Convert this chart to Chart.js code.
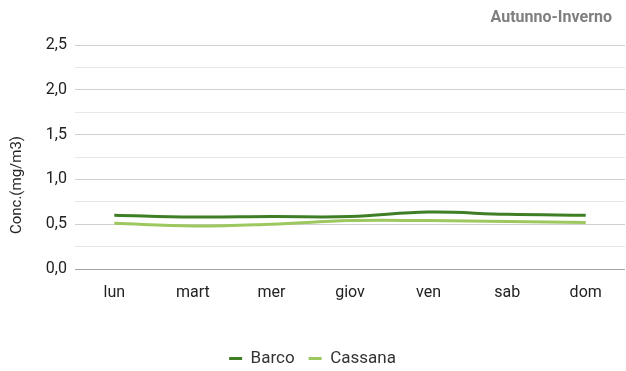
<!DOCTYPE html>
<html>
<head>
<meta charset="utf-8">
<script src="https://cdn.jsdelivr.net/npm/chart.js@4/dist/chart.umd.min.js"></script>
<style>
  html, body { margin: 0; padding: 0; background: #fff; }
  #wrap { width: 626px; height: 371px; }
</style>
</head>
<body>
<div id="wrap"><canvas id="concChart"></canvas></div>
<script>
// weekly concentration profile, autumn-winter
var days = ['lun', 'mart', 'mer', 'giov', 'ven', 'sab', 'dom'];
var barco = [0.60, 0.58, 0.585, 0.585, 0.635, 0.61, 0.60];
var cassana = [0.51, 0.48, 0.50, 0.54, 0.54, 0.53, 0.52];
var yTicks = [0, 0.5, 1.0, 1.5, 2.0, 2.5];

// header and axis title placed like the spreadsheet original
var labelsPlugin = {
    id: 'labelsPlugin',
    afterDraw: function (chart) {
        var c = chart.ctx;
        c.save();
        c.fillStyle = '#7f7f7f';
        c.font = 'bold 16px Roboto';
        c.textAlign = 'right';
        c.textBaseline = 'middle';
        c.fillText('Autunno-Inverno', 612, 18);
        c.fillStyle = '#222';
        c.font = '15px Roboto';
        c.translate(17, 185);
        c.rotate(-Math.PI / 2);
        c.textAlign = 'center';
        c.fillText('Conc.(mg/m3)', 0, 0);
        c.restore();
    }
};

var ctx = document.getElementById('concChart').getContext('2d');
var concChart = new Chart(ctx, {
    type: 'line',
    data: {
        labels: days,
        datasets: [
            { label: 'Barco', data: barco, borderColor: '#3e7f25', backgroundColor: '#3e7f25', borderWidth: 3, pointRadius: 0, tension: 0.4, fill: false },
            { label: 'Cassana', data: cassana, borderColor: '#9dc75f', backgroundColor: '#9dc75f', borderWidth: 3, pointRadius: 0, tension: 0.4, fill: false }
        ]
    },
    options: {
        responsive: true,
        maintainAspectRatio: false,
        animation: false,
        layout: { padding: { left: 0, right: 1, top: 45, bottom: -6 } },
        plugins: {
            legend: {
                position: 'bottom',
                labels: {
                    usePointStyle: true,
                    pointStyle: 'line',
                    pointStyleWidth: 13,
                    boxWidth: 13,
                    color: '#333',
                    font: { family: 'Roboto', size: 17 },
                    padding: 14
                }
            },
            tooltip: { enabled: false }
        },
        scales: {
            x: {
                offset: true,
                grid: { display: false },
                border: { display: false },
                ticks: { color: '#222', font: { family: 'Roboto', size: 16 }, padding: 6 },
                afterFit: function (scale) { scale.height = 67; }
            },
            y: {
                min: 0,
                max: 2.5,
                ticks: {
                    stepSize: 0.25,
                    color: '#222',
                    font: { family: 'Roboto', size: 16 },
                    padding: 8,
                    callback: function (v) {
                        if (yTicks.indexOf(Math.round(v * 100) / 100) < 0) return '';
                        return v.toFixed(1).replace('.', ',');
                    }
                },
                grid: {
                    drawTicks: false,
                    lineWidth: 1,
                    color: function (c) {
                        var v = Math.round(c.tick.value * 100) / 100;
                        if (v === 0) return '#a6a6a6';
                        if (yTicks.indexOf(v) >= 0) return '#d0d0d0';
                        return '#e8e8e8';
                    }
                },
                border: { display: false },
                afterFit: function (scale) { scale.width = 75; }
            }
        }
    },
    plugins: [labelsPlugin]
});
</script>
</body>
</html>
